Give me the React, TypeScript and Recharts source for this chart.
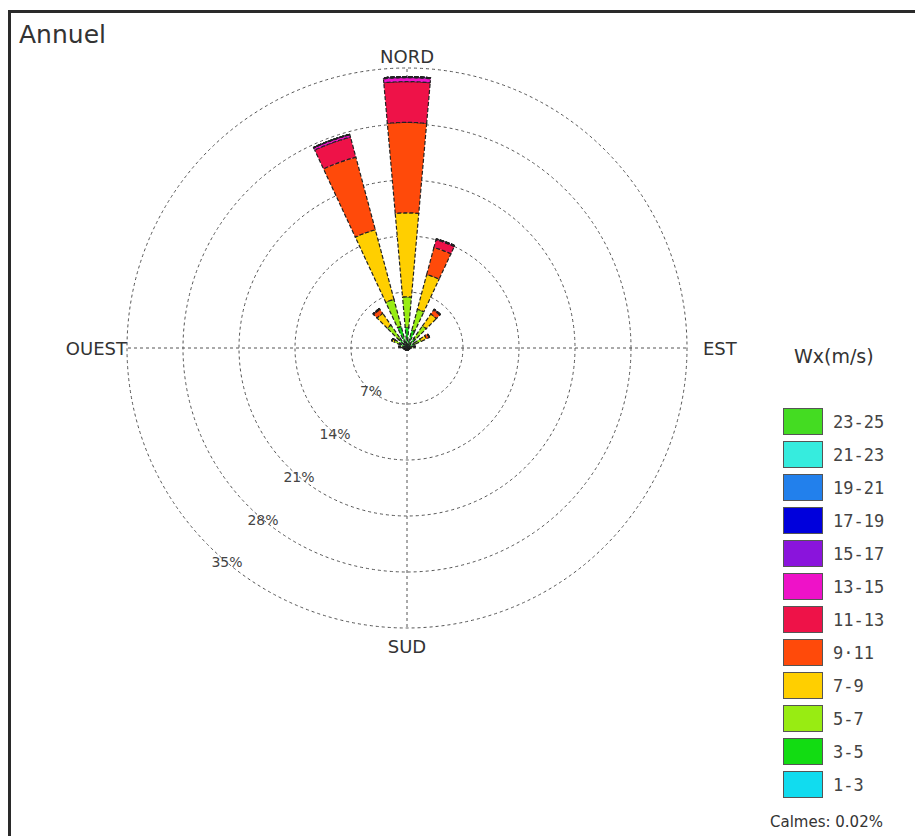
import { Legend, PolarAngleAxis, PolarGrid, PolarRadiusAxis, RadialBar, RadialBarChart } from 'recharts';

// wind directions (degrees from north, clockwise), 18 sectors
const DIRECTIONS = [0, 20, 40, 60, 80, 100, 120, 140, 160, 180, 200, 220, 240, 260, 280, 300, 320, 340];

// speed classes, innermost first
const BINS = ['1-3', '3-5', '5-7', '7-9', '9-11', '11-13', '13-15', '15-17', '17-19', '19-21', '21-23', '23-25'];
const COLORS = ['#11dcef', '#12dc12', '#98ec12', '#ffcf00', '#ff4a0a', '#ee1248', '#ee12c8', '#8a14dc', '#0000dc', '#2280ec', '#36ecde', '#44dc22'];
const LEGEND_LABELS = ['1-3', '3-5', '5-7', '7-9', '9·11', '11-13', '13-15', '15-17', '17-19', '19-21', '21-23', '23-25'];

// frequency (%) per direction for each speed class
const WS_1_3 = [0.5, 0.4, 0.3, 0.3, 0.2, 0.15, 0.1, 0.1, 0.1, 0.1, 0.1, 0.1, 0.1, 0.15, 0.2, 0.3, 0.3, 0.5];
const WS_3_5 = [2.1, 1.9, 1.2, 0.8, 0.4, 0.2, 0.15, 0.15, 0.15, 0.15, 0.15, 0.15, 0.15, 0.2, 0.4, 0.8, 1.2, 2.3];
const WS_5_7 = [3.8, 2.7, 1.9, 0.9, 0.3, 0.1, 0.05, 0.05, 0.05, 0.05, 0.05, 0.05, 0.05, 0.1, 0.3, 0.7, 2.0, 3.5];
const WS_7_9 = [10.5, 4.5, 1.8, 0.7, 0.1, 0, 0, 0, 0, 0, 0, 0, 0, 0, 0.1, 0.3, 1.8, 9.0];
const WS_9_11 = [11.3, 3.5, 0.6, 0.4, 0, 0, 0, 0, 0, 0, 0, 0, 0, 0, 0, 0, 0.6, 9.4];
const WS_11_13 = [5.1, 1.0, 0.1, 0, 0, 0, 0, 0, 0, 0, 0, 0, 0, 0, 0, 0, 0.1, 2.6];
const WS_13_15 = [0.5, 0.1, 0, 0, 0, 0, 0, 0, 0, 0, 0, 0, 0, 0, 0, 0, 0, 0.3];
const WS_15_17 = [0.1, 0, 0, 0, 0, 0, 0, 0, 0, 0, 0, 0, 0, 0, 0, 0, 0, 0.05];
const WS_17_19 = [0, 0, 0, 0, 0, 0, 0, 0, 0, 0, 0, 0, 0, 0, 0, 0, 0, 0];
const WS_19_21 = [0, 0, 0, 0, 0, 0, 0, 0, 0, 0, 0, 0, 0, 0, 0, 0, 0, 0];
const WS_21_23 = [0, 0, 0, 0, 0, 0, 0, 0, 0, 0, 0, 0, 0, 0, 0, 0, 0, 0];
const WS_23_25 = [0, 0, 0, 0, 0, 0, 0, 0, 0, 0, 0, 0, 0, 0, 0, 0, 0, 0];

const RING_TICKS = [7, 14, 21, 28, 35];
const COMPASS = [
  { deg: 0, label: 'NORD' },
  { deg: 90, label: 'EST' },
  { deg: 180, label: 'SUD' },
  { deg: 270, label: 'OUEST' },
];

const SERIES = [WS_1_3, WS_3_5, WS_5_7, WS_7_9, WS_9_11, WS_11_13, WS_13_15, WS_15_17, WS_17_19, WS_19_21, WS_21_23, WS_23_25];

const DATA = DIRECTIONS.map((dir, i) => {
  const row: Record<string, number> = { dir };
  SERIES.forEach((s, k) => {
    row['b' + k] = s[i];
  });
  return row;
});

const CX = 407;
const CY = 348;
const R = 280;
const HALF_SECTOR = 180 / DIRECTIONS.length;

const renderRingTick = (props: any) => {
  const { x, y, payload } = props;
  return (
    <text x={x} y={y} textAnchor="middle" dominantBaseline="central" fontSize={14} fill="#444" fontFamily="DejaVu Sans">
      {payload.value}%
    </text>
  );
};

const WindLegend = () => (
  <div style={{ fontFamily: 'DejaVu Sans', color: '#333' }}>
    <div style={{ fontSize: 19, marginLeft: 24, marginBottom: 38, marginTop: 2 }}>Wx(m/s)</div>
    {BINS.map((b, k) => BINS.length - 1 - k).map((k) => (
      <div key={BINS[k]} style={{ display: 'flex', alignItems: 'center', height: 33 }}>
        <div style={{ width: 38, height: 25, background: COLORS[k], border: '1px solid #555', marginLeft: 13 }} />
        <span style={{ marginLeft: 10, fontFamily: 'DejaVu Sans Mono', fontSize: 17, color: '#444' }}>{LEGEND_LABELS[k]}</span>
      </div>
    ))}
    <div style={{ fontSize: 15, marginTop: 12, color: '#333' }}>Calmes: 0.02%</div>
  </div>
);

const labelStyle = (c: { deg: number }): React.CSSProperties => {
  const base: React.CSSProperties = { position: 'absolute', fontSize: 18, color: '#333', whiteSpace: 'nowrap' };
  if (c.deg === 0) return { ...base, left: CX, top: CY - R - 12, transform: 'translate(-50%, -50%)' };
  if (c.deg === 180) return { ...base, left: CX, top: CY + R + 18, transform: 'translate(-50%, -50%)' };
  if (c.deg === 90) return { ...base, left: CX + R + 16, top: CY, transform: 'translate(0, -50%)' };
  return { ...base, left: CX - R, top: CY, transform: 'translate(-100%, -50%)' };
};

export default function App() {
  return (
    <div style={{ position: 'absolute', left: 0, top: 0, width: 915, height: 836, background: '#fff', overflow: 'hidden', fontFamily: 'DejaVu Sans' }}>
      <div style={{ position: 'absolute', left: 8, top: 10, width: 915, height: 836, borderTop: '3px solid #2a2a2a', borderLeft: '3px solid #2a2a2a' }} />
      <div style={{ position: 'absolute', left: 19, top: 20, fontSize: 25, color: '#333' }}>Annuel</div>
      <div style={{ position: 'absolute', left: 0, top: 0 }}>
        <RadialBarChart
          width={915}
          height={836}
          data={DATA}
          layout="centric"
          cx={CX}
          cy={CY}
          innerRadius={0}
          outerRadius={R}
          startAngle={90 - HALF_SECTOR}
          endAngle={90 - HALF_SECTOR - 360}
          barCategoryGap="25%"
          margin={{ top: 0, right: 0, bottom: 0, left: 0 }}
        >
          <PolarGrid gridType="circle" polarAngles={COMPASS.map((c) => 90 - c.deg)} stroke="#555" strokeDasharray="3 3" />
          <PolarAngleAxis type="category" dataKey="dir" tick={false} axisLine={false} tickLine={false} />
          <PolarRadiusAxis type="number" domain={[0, 35]} ticks={RING_TICKS} angle={-130} axisLine={false} tickLine={false} tick={renderRingTick} />
          {BINS.map((b, k) => (
            <RadialBar
              key={b}
              name={b}
              dataKey={'b' + k}
              stackId="ws"
              fill={COLORS[k]}
              stroke="#222"
              strokeWidth={1.2}
              strokeDasharray="4 2"
              isAnimationActive={false}
            />
          ))}
          <Legend
            layout="vertical"
            content={() => <WindLegend />}
            wrapperStyle={{ position: 'absolute', left: 770, top: 343, width: 145 }}
          />
        </RadialBarChart>
      </div>
      {COMPASS.map((c) => (
        <div key={c.label} style={labelStyle(c)}>
          {c.label}
        </div>
      ))}
    </div>
  );
}
